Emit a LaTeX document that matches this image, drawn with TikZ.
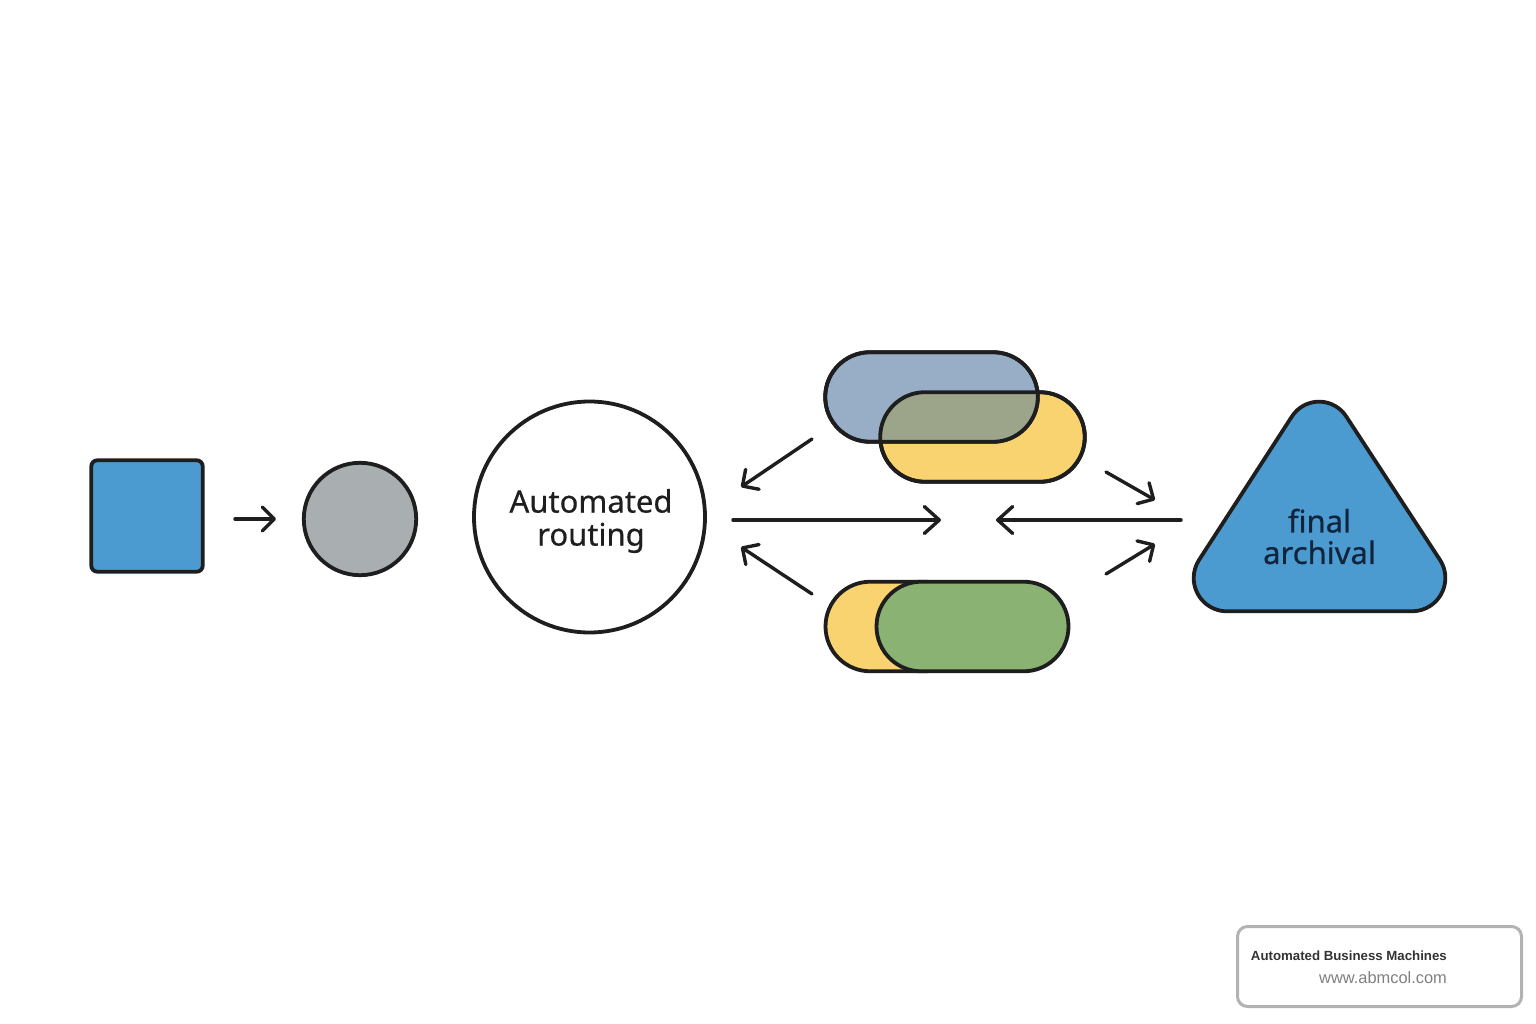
\documentclass[tikz,border=0pt]{standalone}
\usepackage{fontspec}
\setmainfont{Noto Sans}
\newfontfamily\labelfont[FakeBold=0.5]{Noto Sans}
\newfontfamily\badgefont{Liberation Sans}
\usetikzlibrary{arrows.meta,shapes.misc}
\definecolor{ink}{HTML}{1E1E1E}
\definecolor{mainblue}{HTML}{4C9BD0}
\definecolor{midgray}{HTML}{A9AFB1}
\definecolor{steel}{HTML}{98AEC6}
\definecolor{sand}{HTML}{F9D36F}
\definecolor{olive}{HTML}{9CA58A}
\definecolor{leaf}{HTML}{8AB273}
\definecolor{navy}{HTML}{10243C}
\tikzset{
  x=1pt,y=-1pt,
  shapeline/.style={draw=ink,line width=3.8pt},
  pillshape/.style={shapeline,rounded rectangle,minimum height=89.6pt,inner sep=0pt},
  arrowline/.style={draw=ink,line width=3.4pt,line cap=round,line join=round,-{Straight Barb[length=15pt,width=27pt,line width=3.4pt,round]}},
  smallarrow/.style={draw=ink,line width=3.4pt,line cap=round,line join=round,-{Straight Barb[length=12pt,width=24pt,line width=3.4pt,round]}},
  bigtext/.style={font=\labelfont\fontsize{31}{33}\selectfont,align=center,inner sep=0pt},
}
\begin{document}
\begin{tikzpicture}
\useasboundingbox (0,0) rectangle (1536,1024);
\fill[white] (0,0) rectangle (1536,1024);

% square and circles
\node[shapeline,fill=mainblue,rounded corners=6pt,minimum width=111.4pt,minimum height=111.4pt,inner sep=0pt] (square) at (147,516) {};
\node[shapeline,fill=midgray,circle,minimum size=112.4pt,inner sep=0pt] (graycircle) at (360,519) {};
\node[shapeline,fill=white,circle,minimum size=231pt,inner sep=0pt] (routing) at (589.5,517) {};
\node[bigtext,text=ink] (routinglabel) at (591,521) {Automated\\routing};

% upper overlapping pills
\node[pillshape,fill=sand,minimum width=204.6pt] (pillyellow) at (982.5,437) {};
\node[pillshape,fill=steel,minimum width=212.6pt] (pillblue) at (931.5,397) {};
\begin{scope}
  \clip (870,352.2) -- (993,352.2) arc[start angle=-90,end angle=90,radius=44.8] -- (870,441.8) arc[start angle=90,end angle=270,radius=44.8] -- cycle;
  \fill[olive] (925,392.2) -- (1040,392.2) arc[start angle=-90,end angle=90,radius=44.8] -- (925,481.8) arc[start angle=90,end angle=270,radius=44.8] -- cycle;
\end{scope}
\draw[shapeline] (870,352.2) -- (993,352.2) arc[start angle=-90,end angle=90,radius=44.8] -- (870,441.8) arc[start angle=90,end angle=270,radius=44.8] -- cycle;
\draw[shapeline] (925,392.2) -- (1040,392.2) arc[start angle=-90,end angle=90,radius=44.8] -- (925,481.8) arc[start angle=90,end angle=270,radius=44.8] -- cycle;

% lower overlapping pills
\node[pillshape,fill=sand,minimum width=143pt] (pillsand) at (897,626.5) {};
\node[pillshape,fill=leaf,minimum width=192pt] (pillgreen) at (972.5,626.5) {};

% final archival triangle
\draw[shapeline,fill=mainblue] (1291.8,416.6) arc[start angle=212.5,end angle=327.5,radius=32.3]
  -- (1440.1,560.1) arc[start angle=-32.5,end angle=90,radius=33.3]
  -- (1227,611.3) arc[start angle=90,end angle=212.5,radius=33.3] -- cycle;
\node[bigtext,text=navy,font=\labelfont\fontsize{31}{31.5}\selectfont] (archivallabel) at (1319.5,536.5) {final\\archival};

% arrows
\coordinate (a1s) at (235,519); \coordinate (a1e) at (276,519);
\coordinate (a2s) at (733,520); \coordinate (a2e) at (941,520);
\coordinate (a3s) at (1181,520); \coordinate (a3e) at (996,520);
\coordinate (a4s) at (812,439); \coordinate (a4e) at (741,487);
\coordinate (a5s) at (812,594); \coordinate (a5e) at (741,547);
\coordinate (a6s) at (1106,472); \coordinate (a6e) at (1155,500);
\coordinate (a7s) at (1106,574); \coordinate (a7e) at (1155,544);
\draw[smallarrow] (a1s) -- (a1e);
\draw[arrowline] (a2s) -- (a2e);
\draw[arrowline] (a3s) -- (a3e);
\draw[smallarrow] (a4s) -- (a4e);
\draw[smallarrow] (a5s) -- (a5e);
\draw[smallarrow] (a6s) -- (a6e);
\draw[smallarrow] (a7s) -- (a7e);

% badge
\node[draw=black!30,line width=3pt,rounded corners=10pt,minimum width=284pt,minimum height=80pt,inner sep=0pt] (badge) at (1379.5,966.5) {};
\node[anchor=east,inner sep=0pt,text=black!80,font=\badgefont\bfseries\fontsize{13.25}{16}\selectfont] (badgetitle) at (1447,956) {Automated Business Machines};
\node[anchor=east,inner sep=0pt,text=black!50,font=\badgefont\fontsize{16.4}{18}\selectfont] (badgeurl) at (1447,978) {www.abmcol.com};
\end{tikzpicture}
\end{document}
